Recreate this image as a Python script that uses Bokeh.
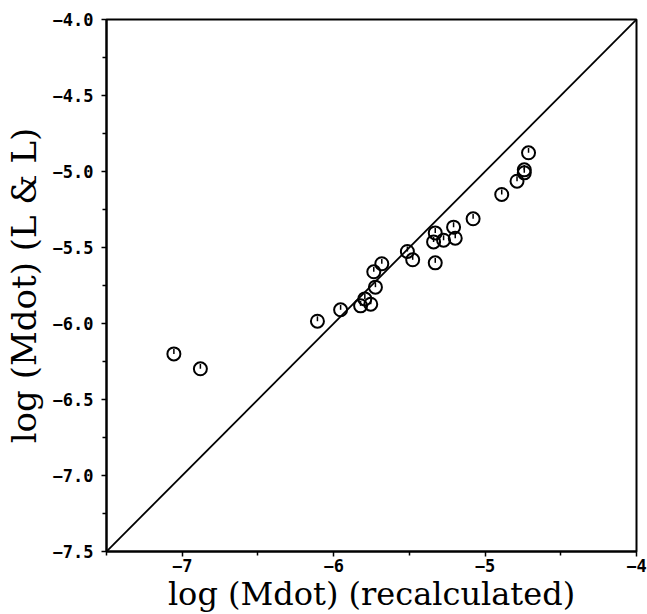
from bokeh.plotting import figure
from bokeh.models import CustomJSTickFormatter, FixedTicker
from bokeh.embed import file_html
from bokeh.resources import INLINE

# log Mdot recalculated (x) vs log Mdot L & L (y)
x_recalc = [-7.055, -6.880, -6.107, -5.954, -5.822, -5.794, -5.755, -5.724, -5.735,
            -5.682, -5.513, -5.478, -5.329, -5.340, -5.274, -5.329, -5.208, -5.197,
            -5.079, -4.890, -4.789, -4.741, -4.741, -4.713]
y_ll = [-6.200, -6.298, -5.985, -5.910, -5.884, -5.838, -5.873, -5.761, -5.660,
        -5.607, -5.526, -5.581, -5.404, -5.463, -5.452, -5.601, -5.366, -5.439,
        -5.311, -5.151, -5.064, -4.989, -5.009, -4.877]
one_to_one = [-7.5, -4.0]
x_ticks = [-7, -6, -5, -4]
x_minor = [-7.5, -6.5, -5.5, -4.5]
y_ticks = [-4.0, -4.5, -5.0, -5.5, -6.0, -6.5, -7.0, -7.5]
y_minor = [-7.25, -6.75, -6.25, -5.75, -5.25, -4.75, -4.25]

p = figure(width=647, height=614, frame_width=530, frame_height=532,
           x_range=(-7.5, -4.0), y_range=(-7.5, -4.0),
           output_backend="svg", toolbar_location=None)
p.min_border_left = 104
p.min_border_right = 13
p.min_border_top = 19
p.min_border_bottom = 63
p.xgrid.visible = False
p.ygrid.visible = False
p.outline_line_color = "black"
p.outline_line_width = 2

p.line(one_to_one, one_to_one, line_color="black", line_width=1.8)

tick_len = 0.032
p.segment(x0=x_recalc, y0=y_ll, x1=x_recalc, y1=[v + tick_len for v in y_ll],
          line_color="black", line_width=1.5)
p.scatter(x_recalc, y_ll, marker="circle", size=13, fill_color=None,
          line_color="black", line_width=2)

p.xaxis.ticker = FixedTicker(ticks=x_ticks, minor_ticks=x_minor)
p.yaxis.ticker = FixedTicker(ticks=y_ticks, minor_ticks=y_minor)
p.xaxis.formatter = CustomJSTickFormatter(code="return (tick<0?'\u2212':'') + Math.abs(tick).toFixed(0);")
p.yaxis.formatter = CustomJSTickFormatter(code="return (tick<0?'\u2212':'') + Math.abs(tick).toFixed(1);")

for ax in (p.xaxis[0], p.yaxis[0]):
    ax.axis_line_color = "black"
    ax.axis_line_width = 2
    ax.major_tick_in = 0
    ax.major_tick_out = 5
    ax.minor_tick_in = 0
    ax.minor_tick_out = 4
    ax.major_tick_line_color = "black"
    ax.major_tick_line_width = 1.5
    ax.minor_tick_line_color = "black"
    ax.minor_tick_line_width = 1.5
    ax.major_label_text_font = "DejaVu Sans Mono"
    ax.major_label_text_font_style = "bold"
    ax.major_label_text_font_size = "17px"
    ax.major_label_text_color = "black"
    ax.axis_label_text_font = "DejaVu Serif"
    ax.axis_label_text_font_style = "normal"
    ax.axis_label_text_color = "black"

p.xaxis.axis_label = "log (Mdot) (recalculated)"
p.yaxis.axis_label = "log (Mdot) (L & L)"
p.xaxis.axis_label_text_font_size = "32px"
p.yaxis.axis_label_text_font_size = "34px"
p.xaxis.major_label_standoff = 2
p.yaxis.major_label_standoff = 8
p.xaxis.axis_label_standoff = 0
p.yaxis.axis_label_standoff = 6

open("out.html", "w").write(file_html(p, INLINE))
